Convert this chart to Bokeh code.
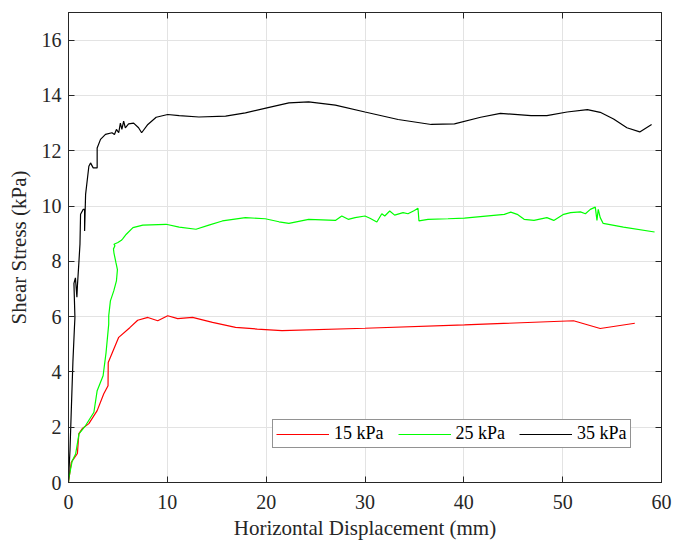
from bokeh.plotting import figure
from bokeh.models import (Range1d, LinearAxis, FixedTicker, Legend, LegendItem,
                          CustomLabelingPolicy)
from bokeh.embed import file_html
from bokeh.resources import INLINE

# Shear stress vs. horizontal displacement for three normal stresses
x_15 = [0.0, 0.05, 0.28, 0.9, 1.05, 1.4, 2.06, 2.9, 3.57, 4.0, 4.02, 5.08, 6.2,
        7.0, 8.03, 9.03, 10.04, 11.05, 12.55, 14.57, 16.9, 19.1, 21.6, 30.0,
        40.06, 51.1, 53.8, 57.3]
y_15 = [0.0, 0.14, 0.73, 1.05, 1.77, 1.95, 2.13, 2.6, 3.21, 3.5, 4.34, 5.25, 5.6,
        5.87, 5.97, 5.85, 6.03, 5.93, 5.97, 5.79, 5.61, 5.55, 5.49, 5.58,
        5.70, 5.85, 5.57, 5.76]

x_25 = [0.0, 0.05, 0.38, 0.72, 1.06, 1.73, 2.57, 2.9, 3.5, 3.8, 4.07, 4.07, 4.24,
        4.58, 4.85, 4.95, 4.8, 4.6, 4.55, 4.7, 4.6, 5.0, 5.35, 5.5, 5.85, 6.52,
        7.52, 9.87, 11.2, 12.9, 14.2, 15.57, 17.9, 19.9, 21.3, 22.3, 24.3, 27.0,
        27.65, 28.3, 29.0, 30.0, 30.5, 31.2, 31.7, 32.0, 32.5, 33.0, 33.85,
        34.35, 35.0, 35.36, 35.46, 36.37, 38.4, 40.06, 44.1, 44.75, 45.4, 46.1,
        47.1, 48.4, 49.1, 50.1, 50.8, 51.8, 52.3, 52.8, 53.3, 53.47, 53.6, 53.8,
        54.1, 56.15, 59.3]
y_25 = [0.0, 0.19, 0.79, 1.03, 1.76, 2.06, 2.54, 3.32, 3.86, 4.7, 5.73, 6.03, 6.57,
        6.93, 7.29, 7.7, 7.95, 8.3, 8.45, 8.56, 8.62, 8.68, 8.76, 8.82, 8.98, 9.22,
        9.31, 9.34, 9.24, 9.16, 9.31, 9.46, 9.58, 9.54, 9.43, 9.37, 9.52, 9.48,
        9.64, 9.52, 9.58, 9.64, 9.56, 9.42, 9.72, 9.64, 9.82, 9.67, 9.76,
        9.72, 9.84, 9.92, 9.46, 9.52, 9.54, 9.56, 9.70, 9.78, 9.70, 9.52,
        9.48, 9.58, 9.48, 9.70, 9.76, 9.79, 9.72, 9.88, 9.96, 9.48, 9.88, 9.58,
        9.37, 9.24, 9.06]

x_35 = [0.0, 0.15, 0.3, 0.45, 0.6, 0.65, 0.55, 0.7, 0.85, 0.9, 1.06, 1.16, 1.22,
        1.49, 1.63, 1.63, 1.73, 2.06, 2.23, 2.5, 2.9, 2.9, 3.24, 3.74, 4.4, 4.65,
        4.85, 5.08, 5.25, 5.4, 5.58, 5.75, 6.08, 6.59, 7.09, 7.4, 8.03, 8.87,
        10.04, 11.2, 13.2, 15.9, 17.9, 20.3, 22.3, 24.3, 27.0, 30.0, 33.35, 36.7,
        39.05, 41.7, 43.7, 46.8, 48.4, 50.45, 52.5, 53.8, 55.15, 56.5, 57.8, 59.0]
y_35 = [0.1, 1.16, 2.8, 4.4, 5.6, 5.97, 7.2, 7.4, 6.7, 7.1, 8.01, 8.62, 9.70,
        9.88, 9.88, 9.10, 10.42, 11.44, 11.56, 11.38, 11.38, 12.1, 12.41, 12.59,
        12.65, 12.59, 12.77, 12.65, 13.0, 12.77, 13.07, 12.83, 12.97, 13.0, 12.83,
        12.65, 12.95, 13.21, 13.31, 13.27, 13.22, 13.25, 13.37, 13.57, 13.73,
        13.77, 13.65, 13.4, 13.13, 12.95, 12.97, 13.21, 13.35, 13.27, 13.27,
        13.40, 13.49, 13.39, 13.15, 12.83, 12.68, 12.95]

labels = ["15 kPa", "25 kPa", "35 kPa"]
colors = ["#ff0000", "#00ff00", "#000000"]
x_ticks = [0, 10, 20, 30, 40, 50, 60]
y_ticks = [0, 2, 4, 6, 8, 10, 12, 14, 16]

FONT = "Liberation Serif"
INK = "#262626"

p = figure(width=676, height=543, x_range=Range1d(0, 60), y_range=Range1d(0, 17),
           output_backend="svg", toolbar_location=None,
           min_border_left=68, min_border_right=11,
           min_border_top=12, min_border_bottom=61)
p.background_fill_color = "white"
p.border_fill_color = "white"
p.outline_line_color = INK
p.outline_line_width = 1

p.xaxis.ticker = FixedTicker(ticks=x_ticks)
p.yaxis.ticker = FixedTicker(ticks=y_ticks)
p.xaxis.axis_label = "Horizontal Displacement (mm)"
p.yaxis.axis_label = "Shear Stress (kPa)"

for ax in (p.xaxis[0], p.yaxis[0]):
    ax.axis_line_color = INK
    ax.major_tick_line_color = INK
    ax.major_tick_in = 6
    ax.major_tick_out = 0
    ax.minor_tick_line_color = None
    ax.major_label_text_font = FONT
    ax.major_label_text_font_size = "20px"
    ax.major_label_text_color = INK
    ax.axis_label_text_font = FONT
    ax.axis_label_text_font_size = "21px"
    ax.axis_label_text_font_style = "normal"
    ax.axis_label_text_color = INK
p.xaxis.major_label_standoff = 12
p.xaxis.axis_label_standoff = 4
p.yaxis.major_label_standoff = 7
p.yaxis.axis_label_standoff = 8

# tick marks on the top and right edges of the box, without labels
no_labels = CustomLabelingPolicy(code="""
for (const i of Array.from(indices)) indices.unset(i)
return indices
""")
for side, tk in (("above", x_ticks), ("right", y_ticks)):
    ax = LinearAxis(ticker=FixedTicker(ticks=tk), major_label_policy=no_labels,
                    major_tick_in=6, major_tick_out=0, major_label_standoff=0,
                    axis_line_color=INK, major_tick_line_color=INK,
                    minor_tick_line_color=None)
    p.add_layout(ax, side)

p.xgrid.grid_line_color = "#e3e3e3"
p.ygrid.grid_line_color = "#e3e3e3"
p.xgrid.grid_line_width = 1
p.ygrid.grid_line_width = 1

series = [(x_15, y_15), (x_25, y_25), (x_35, y_35)]
items = []
for (xs, ys), lab, col in zip(series, labels, colors):
    r = p.line(xs, ys, line_color=col, line_width=1.2)
    items.append(LegendItem(label=lab, renderers=[r]))

legend = Legend(items=items, orientation="horizontal", location=(204, 34),
                label_text_font=FONT, label_text_font_size="18px",
                label_text_color="#000000", glyph_width=53, glyph_height=16,
                label_height=16, label_standoff=5, spacing=14, padding=3,
                margin=0, border_line_color=INK, border_line_width=1,
                background_fill_color="white", background_fill_alpha=1)
p.add_layout(legend)

open("out.html", "w").write(file_html(p, INLINE))
